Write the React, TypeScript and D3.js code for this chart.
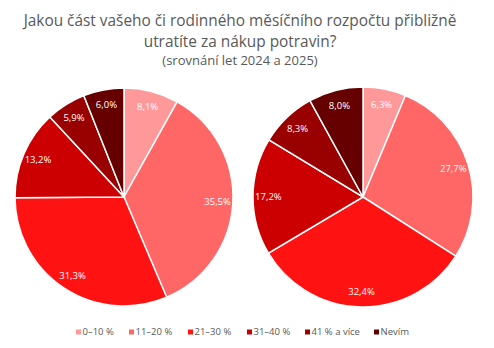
import React from "react";
import * as d3 from "d3";

const categories = ["0–10 %", "11–20 %", "21–30 %", "31–40 %", "41 % a více", "Nevím"];
const values2024 = [8.1, 35.5, 31.3, 13.2, 5.9, 6.0];
const values2025 = [6.3, 27.7, 32.4, 17.2, 8.3, 8.0];
const colors = ["#FF9999", "#FF6666", "#FF1212", "#CC0000", "#990000", "#660000"];
const titleLines = ["Jakou část vašeho či rodinného měsíčního rozpočtu přibližně", "utratíte za nákup potravin?"];
const subtitle = "(srovnání let 2024 a 2025)";

const W = 494;
const H = 348;

function Pie({ values, cx, cy, r }: { values: number[]; cx: number; cy: number; r: number }) {
  const pie = d3.pie<number>().sort(null).value((d) => d)(values);
  const arc = d3.arc<d3.PieArcDatum<number>>().innerRadius(0).outerRadius(r);
  const lr = r * 0.86;
  const labelArc = d3.arc<d3.PieArcDatum<number>>().innerRadius(lr).outerRadius(lr);
  const fmt = (v: number) => v.toFixed(1).replace(".", ",") + "%";
  return (
    <g transform={`translate(${cx},${cy})`}>
      {pie.map((p, i) => (
        <path key={i} d={arc(p) || ""} fill={colors[i]} stroke="#fff" strokeWidth={1.5} />
      ))}
      {pie.map((p, i) => {
        const [x, y] = labelArc.centroid(p);
        return (
          <text key={"t" + i} x={x} y={y} dy="0.35em" textAnchor="middle" fill="#fff"
            fontSize={9.5} fontFamily="'Open Sans', sans-serif">
            {fmt(values[i])}
          </text>
        );
      })}
    </g>
  );
}

export default function App() {
  const legendPos = [76, 129, 188, 247, 305, 374];
  const titleX = 240;
  return (
    <svg width={W} height={H} style={{ position: "absolute", left: 0, top: 0, background: "#fff" }}>
      <rect width={W} height={H} fill="#fff" />
      {titleLines.map((t, i) => (
        <text key={i} x={titleX} y={26 + i * 21} textAnchor="middle" fill="#595959"
          fontSize={15.4} fontFamily="'Open Sans', sans-serif">{t}</text>
      ))}
      <text x={titleX} y={64.5} textAnchor="middle" fill="#595959" fontSize={13}
        fontFamily="'Open Sans', sans-serif">{subtitle}</text>
      <Pie values={values2024} cx={124} cy={197} r={109} />
      <Pie values={values2025} cx={363} cy={197} r={110} />
      {categories.map((c, i) => (
        <g key={c} transform={`translate(${legendPos[i]},332)`}>
          <rect x={0} y={-2.5} width={5} height={5} fill={colors[i]} />
          <text x={6.5} y={0} dy="0.35em" fill="#595959" fontSize={9.5}
            fontFamily="'Open Sans', sans-serif">{c}</text>
        </g>
      ))}
    </svg>
  );
}
